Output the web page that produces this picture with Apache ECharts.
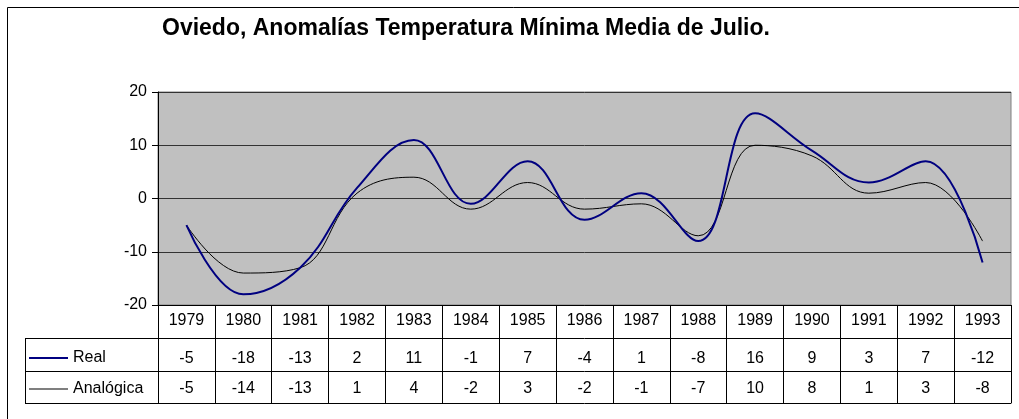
<!DOCTYPE html>
<html><head><meta charset="utf-8">
<script src="https://cdn.jsdelivr.net/npm/echarts@6/dist/echarts.min.js"></script>
<style>html,body{margin:0;padding:0;background:#fff}#c{width:1019px;height:419px}</style>
</head><body><div id="c"></div>
<script>
const years = ['1979','1980','1981','1982','1983','1984','1985','1986','1987','1988','1989','1990','1991','1992','1993'];
const realValues = [-5,-18,-13,2,11,-1,7,-4,1,-8,16,9,3,7,-12];
const analogValues = [-5,-14,-13,1,4,-2,3,-2,-1,-7,10,8,1,3,-8];
const yTicks = {min:-20, max:20, interval:10};
const titleText = 'Oviedo, Anomalías Temperatura Mínima Media de Julio.';

const FONT = 'Liberation Sans, Arial, sans-serif';
const GL = 158, GR = 1011, GT = 92, GB = 305;
const ROW = 33;

const chart = echarts.init(document.getElementById('c'), null, {renderer:'canvas'});
function xAx(offset, fmt, showLabel, tickLen, margin){
  return {
    type:'category', data: years, gridIndex:0, position:'bottom', offset: offset,
    boundaryGap:true,
    axisLine:{show:true, onZero:false, lineStyle:{color:'#000', width:1}},
    axisTick:{show: tickLen>0, length: tickLen, inside:false, lineStyle:{color:'#000', width:1}},
    axisLabel:{show:showLabel, interval:0, margin:margin, fontFamily:FONT, fontSize:16, color:'#000',
      formatter: fmt},
    splitLine:{show:false}
  };
}
function legendFor(name, top, h){
  return {
    orient:'vertical', left:29, top:top, padding:0, itemWidth:39, itemHeight:h, icon:'rect',
    itemGap:0, textStyle:{fontFamily:FONT, fontSize:16, color:'#000'}, data:[name]
  };
}
const option = {
  animation:false,
  backgroundColor:'#fff',
  title:{text:titleText, left:157, top:12, textStyle:{fontFamily:FONT, fontWeight:'bold', fontSize:23, color:'#000'}},
  legend:[legendFor('Real', 350, 2), legendFor('Analógica', 381, 1)],
  grid:{left:GL, top:GT, width:GR-GL, height:GB-GT, show:true, backgroundColor:'#c0c0c0', borderColor:'#808080', borderWidth:1},
  xAxis:[
    xAx(0, (v)=>v, true, ROW*3-1, 8),
    xAx(ROW, (v,i)=>String(realValues[i]), true, 0, 13),
    xAx(ROW*2, (v,i)=>String(analogValues[i]), true, 0, 10),
    xAx(ROW*3-1, ()=>'', false, 0, 8)
  ],
  yAxis:{
    type:'value', min:yTicks.min, max:yTicks.max, interval:yTicks.interval,
    axisLine:{show:true, lineStyle:{color:'#000'}},
    axisTick:{show:true, length:6, lineStyle:{color:'#000'}},
    axisLabel:{fontFamily:FONT, fontSize:16, color:'#000', margin:11},
    splitLine:{show:true, lineStyle:{color:'#333', width:1}}
  },
  series:[
    {name:'Real', type:'line', data:realValues, smooth:0.4, symbol:'none', showSymbol:false,
      lineStyle:{color:'#000080', width:2}, itemStyle:{color:'#000080'}, z:3},
    {name:'Analógica', type:'line', data:analogValues, smooth:0.4, symbol:'none', showSymbol:false,
      lineStyle:{color:'#000', width:1}, itemStyle:{color:'#000'}, z:2}
  ],
  graphic:[
    {type:'rect', silent:true, shape:{x:7.5, y:7.5, width:1200, height:1000}, style:{fill:null, stroke:'#000', lineWidth:1}},
    {type:'line', silent:true, shape:{x1:25, y1:GB+ROW+0.5, x2:GL, y2:GB+ROW+0.5}, style:{stroke:'#000', lineWidth:1}},
    {type:'line', silent:true, shape:{x1:25, y1:GB+ROW*2+0.5, x2:GL, y2:GB+ROW*2+0.5}, style:{stroke:'#000', lineWidth:1}},
    {type:'line', silent:true, shape:{x1:25, y1:GB+ROW*3-0.5, x2:GL, y2:GB+ROW*3-0.5}, style:{stroke:'#000', lineWidth:1}},
    {type:'line', silent:true, shape:{x1:25.5, y1:GB+ROW, x2:25.5, y2:GB+ROW*3}, style:{stroke:'#000', lineWidth:1}}
  ]
};
chart.setOption(option);
</script></body></html>
